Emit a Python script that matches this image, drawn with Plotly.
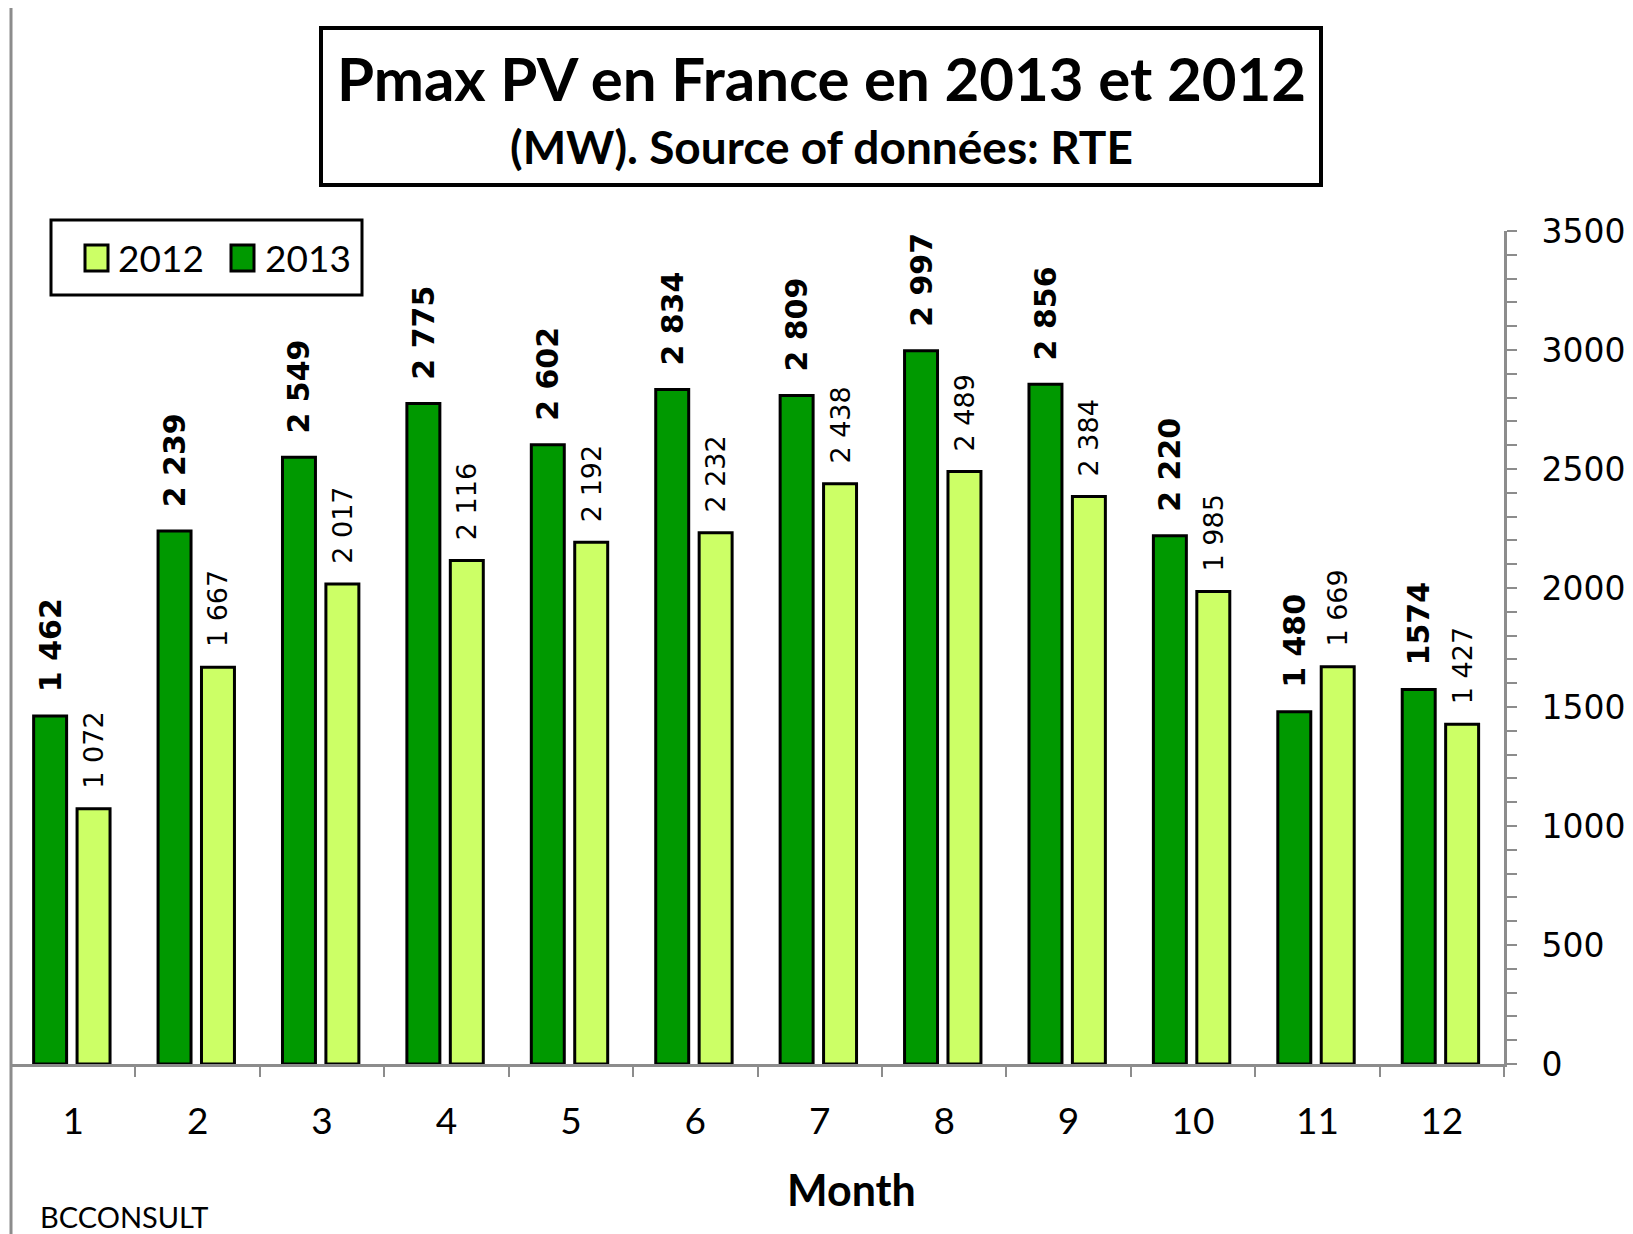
import plotly.graph_objects as go

# Data
months = [str(m) for m in range(1, 13)]
pmax_2013 = [1462, 2239, 2549, 2775, 2602, 2834, 2809, 2997, 2856, 2220, 1480, 1574]
pmax_2012 = [1072, 1667, 2017, 2116, 2192, 2232, 2438, 2489, 2384, 1985, 1669, 1427]
labels_2013 = ["1 462", "2 239", "2 549", "2 775", "2 602", "2 834",
               "2 809", "2 997", "2 856", "2 220", "1 480", "1574"]
labels_2012 = ["1 072", "1 667", "2 017", "2 116", "2 192", "2 232",
               "2 438", "2 489", "2 384", "1 985", "1 669", "1 427"]
y_ticks = [0, 500, 1000, 1500, 2000, 2500, 3000, 3500]

COLOR_2013 = "#009900"
COLOR_2012 = "#CCFF66"

# the page puts the figure 8px in from the top-left corner
OFF = 8
W, H = 1633 - OFF, 1234 - OFF
PLOT_L, PLOT_R, PLOT_T, PLOT_B = 11, 1504, 231, 1064   # page pixels
ML, MT = PLOT_L - OFF, PLOT_T - OFF
MR, MB = W - (PLOT_R - OFF), H - (PLOT_B - OFF)
PW, PH = PLOT_R - PLOT_L, PLOT_B - PLOT_T


def px(x):
    return (x - PLOT_L) / PW


def py(y):
    return (PLOT_B - y) / PH


pad = "\u00a0\u00a0"
BAR_W = 0.265

fig = go.Figure()

fig.add_trace(go.Bar(
    x=months, y=pmax_2013, name="2013", width=BAR_W, offset=-0.318,
    marker=dict(color=COLOR_2013, line=dict(color="black", width=3)),
    text=[pad + t for t in labels_2013], textposition="outside", textangle=-90,
    textfont=dict(family="DejaVu Sans", size=30, color="black", weight="bold"),
    constraintext="none", cliponaxis=False,
))
fig.add_trace(go.Bar(
    x=months, y=pmax_2012, name="2012", width=BAR_W, offset=0.031,
    marker=dict(color=COLOR_2012, line=dict(color="black", width=3)),
    text=[pad + t for t in labels_2012], textposition="outside", textangle=-90,
    textfont=dict(family="DejaVu Sans", size=27, color="black"),
    constraintext="none", cliponaxis=False,
))

fig.update_layout(
    width=W, height=H,
    margin=dict(l=ML, r=MR, t=MT, b=MB),
    paper_bgcolor="white", plot_bgcolor="white",
    barmode="group",
    showlegend=False,
    xaxis=dict(
        type="category", tickson="boundaries", ticks="outside", ticklen=10,
        tickcolor="#8c8c8c", tickwidth=2, showline=True, linecolor="#8c8c8c",
        linewidth=3, showgrid=False, ticklabelstandoff=23,
        tickfont=dict(family="Lato", size=37, color="black"),
    ),
    yaxis=dict(
        side="right", range=[0, 3500], tickvals=y_ticks, ticks="outside",
        ticklen=10, tickcolor="#8c8c8c", tickwidth=2, showline=True,
        linecolor="#8c8c8c", linewidth=3, showgrid=False, zeroline=False,
        ticklabelstandoff=18,
        tickfont=dict(family="DejaVu Sans", size=33, color="black"),
        minor=dict(dtick=100, ticks="outside", ticklen=10, tickcolor="#8c8c8c",
                   tickwidth=2, showgrid=False),
    ),
)

# Title box
fig.add_shape(type="rect", xref="paper", yref="paper",
              x0=px(321), x1=px(1321), y0=py(185), y1=py(28),
              line=dict(color="black", width=4), fillcolor="white")
fig.add_annotation(text="<b>Pmax PV en France en 2013 et 2012</b>",
                   xref="paper", yref="paper", x=px(821), y=py(78),
                   showarrow=False, xanchor="center", yanchor="middle",
                   font=dict(family="Lato", size=60, color="black"))
fig.add_annotation(text="<b>(MW). Source of données: RTE</b>",
                   xref="paper", yref="paper", x=px(821), y=py(147),
                   showarrow=False, xanchor="center", yanchor="middle",
                   font=dict(family="Lato", size=46, color="black"))

# Legend box
fig.add_shape(type="rect", xref="paper", yref="paper",
              x0=px(51), x1=px(362), y0=py(295), y1=py(220),
              line=dict(color="black", width=3), fillcolor="white")
for name, color, sx, tx in [("2012", COLOR_2012, 85, 116),
                            ("2013", COLOR_2013, 231, 263)]:
    fig.add_shape(type="rect", xref="paper", yref="paper",
                  x0=px(sx), x1=px(sx + 23), y0=py(271), y1=py(245),
                  line=dict(color="black", width=3), fillcolor=color)
    fig.add_annotation(text=name, xref="paper", yref="paper",
                       x=px(tx), y=py(258), showarrow=False,
                       xanchor="left", yanchor="middle",
                       font=dict(family="Lato", size=37, color="black"))

# Axis title and credit
fig.add_annotation(text="<b>Month</b>", xref="paper", yref="paper",
                   x=px(851), y=py(1189), showarrow=False,
                   xanchor="center", yanchor="middle",
                   font=dict(family="Lato", size=43, color="black"))
fig.add_annotation(text="BCCONSULT", xref="paper", yref="paper",
                   x=px(38), y=py(1216), showarrow=False,
                   xanchor="left", yanchor="middle",
                   font=dict(family="Lato", size=29, color="black"))

# Left frame line
fig.add_shape(type="line", xref="paper", yref="paper",
              x0=px(11), x1=px(11), y0=py(1234), y1=py(0),
              line=dict(color="#8c8c8c", width=3))

fig.write_html("out.html")
